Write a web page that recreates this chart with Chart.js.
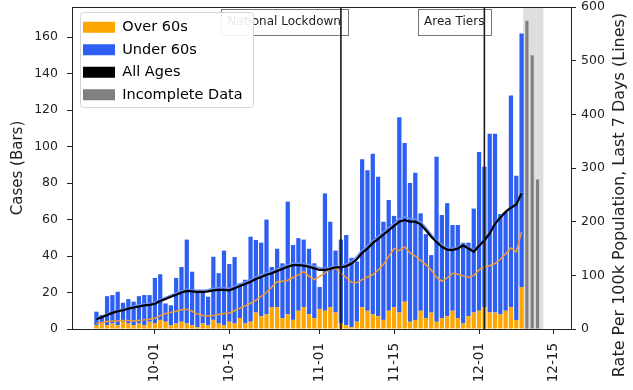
<!DOCTYPE html>
<html>
<head>
<meta charset="utf-8">
<script src="https://cdn.jsdelivr.net/npm/chart.js@4.4.1/dist/chart.umd.min.js"></script>
<style>
  body { margin: 0; background: #fff; }
  canvas { display: block; }
</style>
</head>
<body>
<canvas id="chart" width="633" height="390"></canvas>
<script>
// days are counted from 1 Oct (day 0 = 10-01), first bar is 20 Sep
const firstDay = -11

const over60 = [2,3,2,3,2,4,3,2,3,2,4,
  3,5,4,2,3,4,3,2,1,3,2,5,3,2,4,3,6,3,4,9,7,8,12,12,6,8,5,10,12,8,6,11,10,12,9,
  3,2,1,4,12,10,8,7,5,10,12,9,15,4,5,10,6,9,4,6,7,10,6,3,7,9,10,12,9,9,8,10,12,5,23]
const under60 = [7.5,4.7,16,15.6,18.4,10.4,13.4,13,15,16.6,14.6,
  25,25,10,11,25,30,46,29.4,19.4,18,15.7,34.6,27.6,41,31.6,36.4,19,24,46.6,39.8,40.3,52,22,32,30,61.8,41,39.8,37,36,30,12,64.3,46.8,34,
  46,49.5,38,33,81,77,88,76.5,53.8,60.7,50,107,87,76,80.6,53.4,46,31.5,90.4,56.5,62,47,51,44.3,40.3,57,87,77,98,98,55,54,116,79,139]

const incompleteDays = [70, 71, 72]
const incomplete = [169, 150, 82]

const rateAll = [18,22,26,30,33,35,38,40,42,44,45,
  47,52,56,60,64,68,71,70,69,69,70,72,73,73,72,76,80,84,88,93,97,101,104,108,112,116,119,119,118,116,113,110,110,112,115,
  115,117,122,130,142,150,160,168,176,184,192,200,203,200,200,195,184,172,162,153,148,147,150,156,150,144,155,165,178,196,208,218,226,232,253]
const rateUnder60 = [20,24,28,32,35,37,40,43,45,47,48,
  50,55,59,63,67,71,74,73,72,72,73,76,77,77,76,80,84,88,92,97,101,105,108,112,116,120,123,123,122,120,117,114,113,115,118,
  118,121,126,135,147,155,165,173,181,189,197,206,209,206,205,200,189,176,166,157,152,151,153,159,153,147,157,167,180,198,210,220,228,234,255]
const rateOver60 = [10,12,14,15,15,16,16,15,16,17,18,
  20,25,29,31,33,36,37,33,28,25,24,25,27,29,30,34,39,43,48,54,61,68,78,88,89,91,96,101,107,98,92,98,104,112,113,
  104,96,87,86,92,97,101,110,120,135,150,146,153,142,136,128,120,110,96,89,95,104,102,99,96,100,110,116,118,122,130,140,151,144,181]

const tickDays = [0, 14, 31, 45, 61, 75]
const tickLabels = ['10-01', '10-15', '11-01', '11-15', '12-01', '12-15']
const leftTicks = [0, 20, 40, 60, 80, 100, 120, 140, 160]
const rightTicks = [0, 100, 200, 300, 400, 500, 600]

const eventDays = [35, 62]
const eventLabels = ['National Lockdown', 'Area Tiers']
const shadeFrom = 69.3
const shadeTo = 73.1

const legendNames = ['Over 60s', 'Under 60s', 'All Ages', 'Incomplete Data']
const legendColors = ['#ffa500', '#2d5ff5', '#000000', '#808080']

const ORANGE = '#ffa500'
const BLUE = '#2d5ff5'
const INK = '#222'

const pts = (arr) => arr.map((v, i) => ({x: firstDay + i, y: v}))

Chart.defaults.font.family = '"DejaVu Sans", sans-serif'
Chart.defaults.color = INK

const decor = {
  id: 'decor',
  afterLayout(chart) {
    // legend sits inside the plot, a little off the corner
    chart.legend.left = chart.chartArea.left + 3
    chart.legend.top = chart.chartArea.top + 5
  },
  beforeDraw(chart) {
    const {ctx, chartArea: a, scales: {x}} = chart
    ctx.save()
    ctx.fillStyle = '#fff'
    ctx.fillRect(0, 0, chart.width, chart.height)
    // event label boxes
    ctx.font = '12px "DejaVu Sans"'
    ctx.lineWidth = 1
    eventDays.forEach((d, i) => {
      const px = x.getPixelForValue(d)
      const w = ctx.measureText(eventLabels[i]).width
      ctx.fillStyle = '#fff'
      ctx.strokeStyle = '#777'
      ctx.fillRect(px - w - 6, a.top + 2, w + 13, 26)
      ctx.strokeRect(Math.round(px - w - 6) + 0.5, a.top + 2.5, Math.round(w + 13), 26)
      ctx.fillStyle = INK
      ctx.textAlign = 'right'
      ctx.textBaseline = 'middle'
      ctx.fillText(eventLabels[i], px, a.top + 15)
    })
    // legend frame
    ctx.fillStyle = 'rgba(255,255,255,0.9)'
    ctx.strokeStyle = '#d5d5d5'
    ctx.beginPath()
    ctx.roundRect(a.left + 8.5, a.top + 5.5, 173, 95, 3)
    ctx.fill()
    ctx.stroke()
    ctx.restore()
  },
  beforeDatasetsDraw(chart) {
    const {ctx, chartArea: a, scales: {x}} = chart
    const x0 = x.getPixelForValue(shadeFrom)
    const x1 = x.getPixelForValue(shadeTo)
    ctx.save()
    ctx.fillStyle = 'rgba(190,190,190,0.5)'
    ctx.fillRect(x0, a.top, x1 - x0, a.bottom - a.top)
    ctx.restore()
  },
  afterDatasetsDraw(chart) {
    const {ctx, chartArea: a, scales: {x}} = chart
    ctx.save()
    ctx.strokeStyle = '#1a1a1a'
    ctx.lineWidth = 1.6
    eventDays.forEach((d) => {
      const px = x.getPixelForValue(d)
      ctx.beginPath()
      ctx.moveTo(px, a.top)
      ctx.lineTo(px, a.bottom)
      ctx.stroke()
    })
    ctx.restore()
  },
  afterDraw(chart) {
    const {ctx, chartArea: a} = chart
    ctx.save()
    ctx.strokeStyle = INK
    ctx.lineWidth = 1
    ctx.beginPath()
    ctx.moveTo(a.left, a.top + 0.5)
    ctx.lineTo(a.right, a.top + 0.5)
    ctx.stroke()
    // right axis title reads bottom to top
    ctx.translate(620, chart.height / 2)
    ctx.rotate(-Math.PI / 2)
    ctx.font = '16px "DejaVu Sans"'
    ctx.fillStyle = INK
    ctx.textAlign = 'center'
    ctx.textBaseline = 'middle'
    ctx.fillText('Rate Per 100k Population, Last 7 Days (Lines)', 0, 0)
    ctx.restore()
  }
}

const lineSet = (label, data, color, width) => ({
  type: 'line', label: label, data: pts(data), yAxisID: 'y2',
  borderColor: color, borderWidth: width, pointRadius: 0, tension: 0, fill: false
})

const barSet = (label, data, color, pct) => ({
  type: 'bar', label: label, data: data, yAxisID: 'y', stack: 'a',
  backgroundColor: color, borderWidth: 0, categoryPercentage: 1, barPercentage: pct
})

// pin the plot box: fixed axis sizes, no extra room for end labels
const fixY = (w) => (axis) => {
  axis.width = w
  axis.paddingTop = 0
  axis.paddingBottom = 0
}

new Chart(document.getElementById('chart'), {
  type: 'bar',
  data: {
    datasets: [
      lineSet('All Ages rate', rateAll, '#000', 2.2),
      lineSet('Under 60s rate', rateUnder60, '#6b8ff8', 1.5),
      lineSet('Over 60s rate', rateOver60, '#f39a2c', 1.5),
      barSet('Over 60s', pts(over60), ORANGE, 0.8),
      barSet('Under 60s', pts(under60), BLUE, 0.8),
      barSet('Incomplete Data', incompleteDays.map((d, i) => ({x: d, y: incomplete[i]})), '#808080', 0.6)
    ]
  },
  options: {
    responsive: false,
    animation: false,
    layout: {padding: {top: 7, left: 0, right: 0, bottom: 0}},
    plugins: {
      tooltip: {enabled: false},
      legend: {
        position: 'chartArea',
        align: 'start',
        labels: {
          boxWidth: 32,
          boxHeight: 11,
          padding: 8,
          color: INK,
          font: {size: 14.5},
          generateLabels: () => legendNames.map((name, i) => ({
            text: name, fillStyle: legendColors[i], strokeStyle: legendColors[i],
            lineWidth: 0, hidden: false, datasetIndex: i
          }))
        }
      }
    },
    scales: {
      x: {
        type: 'linear',
        min: -15.6,
        max: 78.3,
        offset: false,
        stacked: true,
        grid: {drawOnChartArea: false, offset: false, tickLength: 5, color: INK},
        border: {display: true, color: INK},
        afterBuildTicks: (axis) => { axis.ticks = tickDays.map((v) => ({value: v})) },
        afterFit: (axis) => {
          axis.height = 61
          axis.paddingLeft = 0
          axis.paddingRight = 0
        },
        ticks: {
          autoSkip: false,
          minRotation: 90,
          maxRotation: 90,
          padding: 9,
          font: {size: 13.5},
          callback: (v) => tickLabels[tickDays.indexOf(v)]
        }
      },
      y: {
        position: 'left',
        min: 0,
        max: 176.5,
        stacked: true,
        grid: {drawOnChartArea: false, tickLength: 5, color: INK},
        border: {display: true, color: INK},
        afterBuildTicks: (axis) => { axis.ticks = leftTicks.map((v) => ({value: v})) },
        afterFit: fixY(72),
        ticks: {padding: 9, font: {size: 12.5}},
        title: {display: true, text: 'Cases (Bars)', font: {size: 15}, padding: {top: 9, bottom: 0}}
      },
      y2: {
        position: 'right',
        min: 0,
        max: 600,
        grid: {drawOnChartArea: false, tickLength: 5, color: INK},
        border: {display: true, color: INK},
        afterBuildTicks: (axis) => { axis.ticks = rightTicks.map((v) => ({value: v})) },
        afterFit: fixY(62),
        ticks: {padding: 5, font: {size: 12.5}}
      }
    }
  },
  plugins: [decor]
})
</script>
</body>
</html>
